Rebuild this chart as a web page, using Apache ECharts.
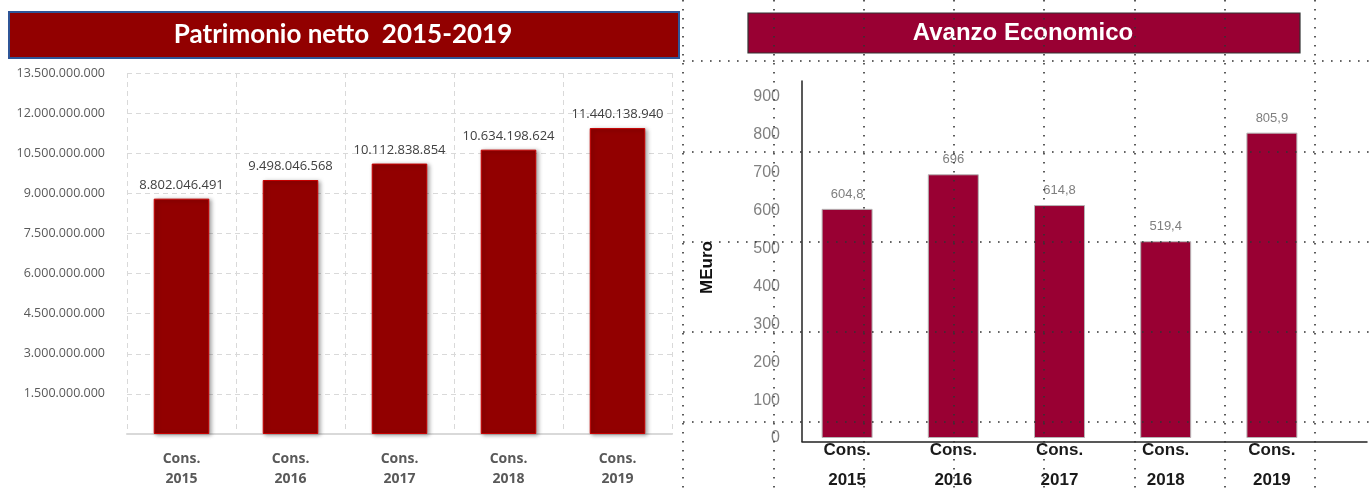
<!DOCTYPE html>
<html>
<head>
<meta charset="utf-8">
<script src="https://cdn.jsdelivr.net/npm/echarts@6/dist/echarts.min.js"></script>
<style>
  html, body { margin: 0; padding: 0; background: #ffffff; }
  #chart { width: 1372px; height: 495px; }
</style>
</head>
<body>
<div id="chart"></div>
<script>
// Categories shared by both panels
const years = ['2015', '2016', '2017', '2018', '2019'];
const categories = years.map(y => 'Cons.\n' + y);

// Patrimonio netto (euro)
const patrimonioValues = [8802046491, 9498046568, 10112838854, 10634198624, 11440138940];
const patrimonioAxis = { min: 0, max: 13500000000, interval: 1500000000 };

// Avanzo economico (milioni di euro)
const avanzoValues = [604.8, 696, 614.8, 519.4, 805.9];
const avanzoAxis = { min: 0, max: 900, interval: 100 };

const fmtDots = n => String(n).replace(/\B(?=(\d{3})+(?!\d))/g, '.');
const fmtComma = v => String(v).replace('.', ',');

const dotted = { color: '#333333', width: 1.6, type: [1.6, 7.4] };

const chart = echarts.init(document.getElementById('chart'), null, { renderer: 'canvas' });

chart.setOption({
  animation: false,
  backgroundColor: '#ffffff',
  grid: [
    // 0: Patrimonio netto
    { left: 127, width: 545, top: 73, bottom: 61 },
    // 1: Avanzo economico
    { left: 794, width: 531, top: 97, bottom: 53.5 },
    // 2: axis frame of the right panel
    { left: 802, right: 5, top: 81, bottom: 53.5 },
    // 3: vertical dotted guides
    { left: 683, width: 632, top: 0, bottom: 0 },
    // 4: horizontal dotted guides
    { left: 683, right: 0, top: 61, height: 361 }
  ],
  xAxis: [
    {
      gridIndex: 0, type: 'category', data: categories,
      axisLine: { show: true, lineStyle: { color: '#d9d9d9', width: 2 } },
      axisTick: { show: false },
      splitLine: { show: true, lineStyle: { color: '#d9d9d9', type: [5, 4] } },
      axisLabel: {
        color: '#595959', fontFamily: 'Open Sans', fontWeight: 'bold',
        fontSize: 14, lineHeight: 20, margin: 15
      }
    },
    {
      gridIndex: 1, type: 'category', data: categories,
      axisLine: { show: false }, axisTick: { show: false }, splitLine: { show: false },
      axisLabel: {
        color: '#1a1a1a', fontFamily: 'Liberation Sans', fontWeight: 'bold',
        fontSize: 17, lineHeight: 30, margin: -3
      }
    },
    {
      gridIndex: 2, type: 'value', min: 0, max: 1,
      axisLine: { show: true, onZero: false, lineStyle: { color: '#222222', width: 1.5 } },
      axisTick: { show: false }, axisLabel: { show: false }, splitLine: { show: false }
    },
    {
      gridIndex: 3, type: 'value', min: 0, max: 7, interval: 1, z: 10,
      axisLine: { show: false }, axisTick: { show: false }, axisLabel: { show: false },
      splitLine: { show: true, lineStyle: dotted }
    },
    {
      gridIndex: 4, type: 'value', min: 0, max: 1, show: false
    }
  ],
  yAxis: [
    {
      gridIndex: 0, type: 'value',
      min: patrimonioAxis.min, max: patrimonioAxis.max, interval: patrimonioAxis.interval,
      axisLine: { show: false }, axisTick: { show: false },
      splitLine: { show: true, lineStyle: { color: '#d9d9d9', type: [5, 4] } },
      axisLabel: {
        color: '#595959', fontFamily: 'Open Sans', fontSize: 12.5, margin: 22,
        showMinLabel: false, formatter: fmtDots
      }
    },
    {
      gridIndex: 1, type: 'value',
      min: avanzoAxis.min, max: avanzoAxis.max, interval: avanzoAxis.interval,
      axisLine: { show: false }, axisTick: { show: false }, splitLine: { show: false },
      axisLabel: { color: '#808080', fontFamily: 'Liberation Sans', fontSize: 16, margin: 14 },
      name: 'MEuro', nameLocation: 'middle', nameGap: 78,
      nameTextStyle: { color: '#111111', fontFamily: 'Liberation Sans', fontWeight: 'bold', fontSize: 17 }
    },
    {
      gridIndex: 2, type: 'value', min: 0, max: 1,
      axisLine: { show: true, onZero: false, lineStyle: { color: '#222222', width: 1.5 } },
      axisTick: { show: false }, axisLabel: { show: false }, splitLine: { show: false }
    },
    {
      gridIndex: 3, type: 'value', min: 0, max: 1, show: false
    },
    {
      gridIndex: 4, type: 'value', min: 0, max: 4, interval: 1, z: 10,
      axisLine: { show: false }, axisTick: { show: false }, axisLabel: { show: false },
      splitLine: { show: true, lineStyle: dotted }
    }
  ],
  series: [
    {
      type: 'bar', xAxisIndex: 0, yAxisIndex: 0, data: patrimonioValues,
      barWidth: '51%',
      itemStyle: {
        color: '#920000', borderColor: '#c80000', borderWidth: 1,
        shadowBlur: 4, shadowColor: 'rgba(0,0,0,0.35)', shadowOffsetX: 2, shadowOffsetY: 1
      },
      label: {
        show: true, position: 'top', distance: 7,
        color: '#404040', fontFamily: 'Open Sans', fontSize: 13,
        formatter: p => fmtDots(p.value)
      }
    },
    {
      type: 'bar', xAxisIndex: 1, yAxisIndex: 1, data: avanzoValues,
      barWidth: '48%',
      itemStyle: { color: '#990033', borderColor: '#b5b5b5', borderWidth: 1 },
      label: {
        show: true, position: 'top', distance: 8,
        color: '#7f7f7f', fontFamily: 'Liberation Sans', fontSize: 13,
        formatter: p => fmtComma(p.value)
      }
    }
  ],
  graphic: [
    {
      type: 'rect', z: 5,
      shape: { x: 9, y: 12, width: 670, height: 46 },
      style: { fill: '#920000', stroke: '#2f5597', lineWidth: 2 }
    },
    {
      type: 'text', z: 6, x: 343, y: 35,
      style: {
        text: 'Patrimonio netto  2015-2019', fill: '#ffffff',
        font: 'bold 26px Lato', align: 'center', verticalAlign: 'middle'
      }
    },
    {
      type: 'rect', z: 5,
      shape: { x: 748, y: 13, width: 552, height: 40 },
      style: { fill: '#990033', stroke: '#333333', lineWidth: 1.2 }
    },
    {
      type: 'text', z: 6, x: 1023, y: 33,
      style: {
        text: 'Avanzo Economico', fill: '#ffffff',
        font: 'bold 24px "Liberation Sans"', align: 'center', verticalAlign: 'middle'
      }
    }
  ]
});
</script>
</body>
</html>
